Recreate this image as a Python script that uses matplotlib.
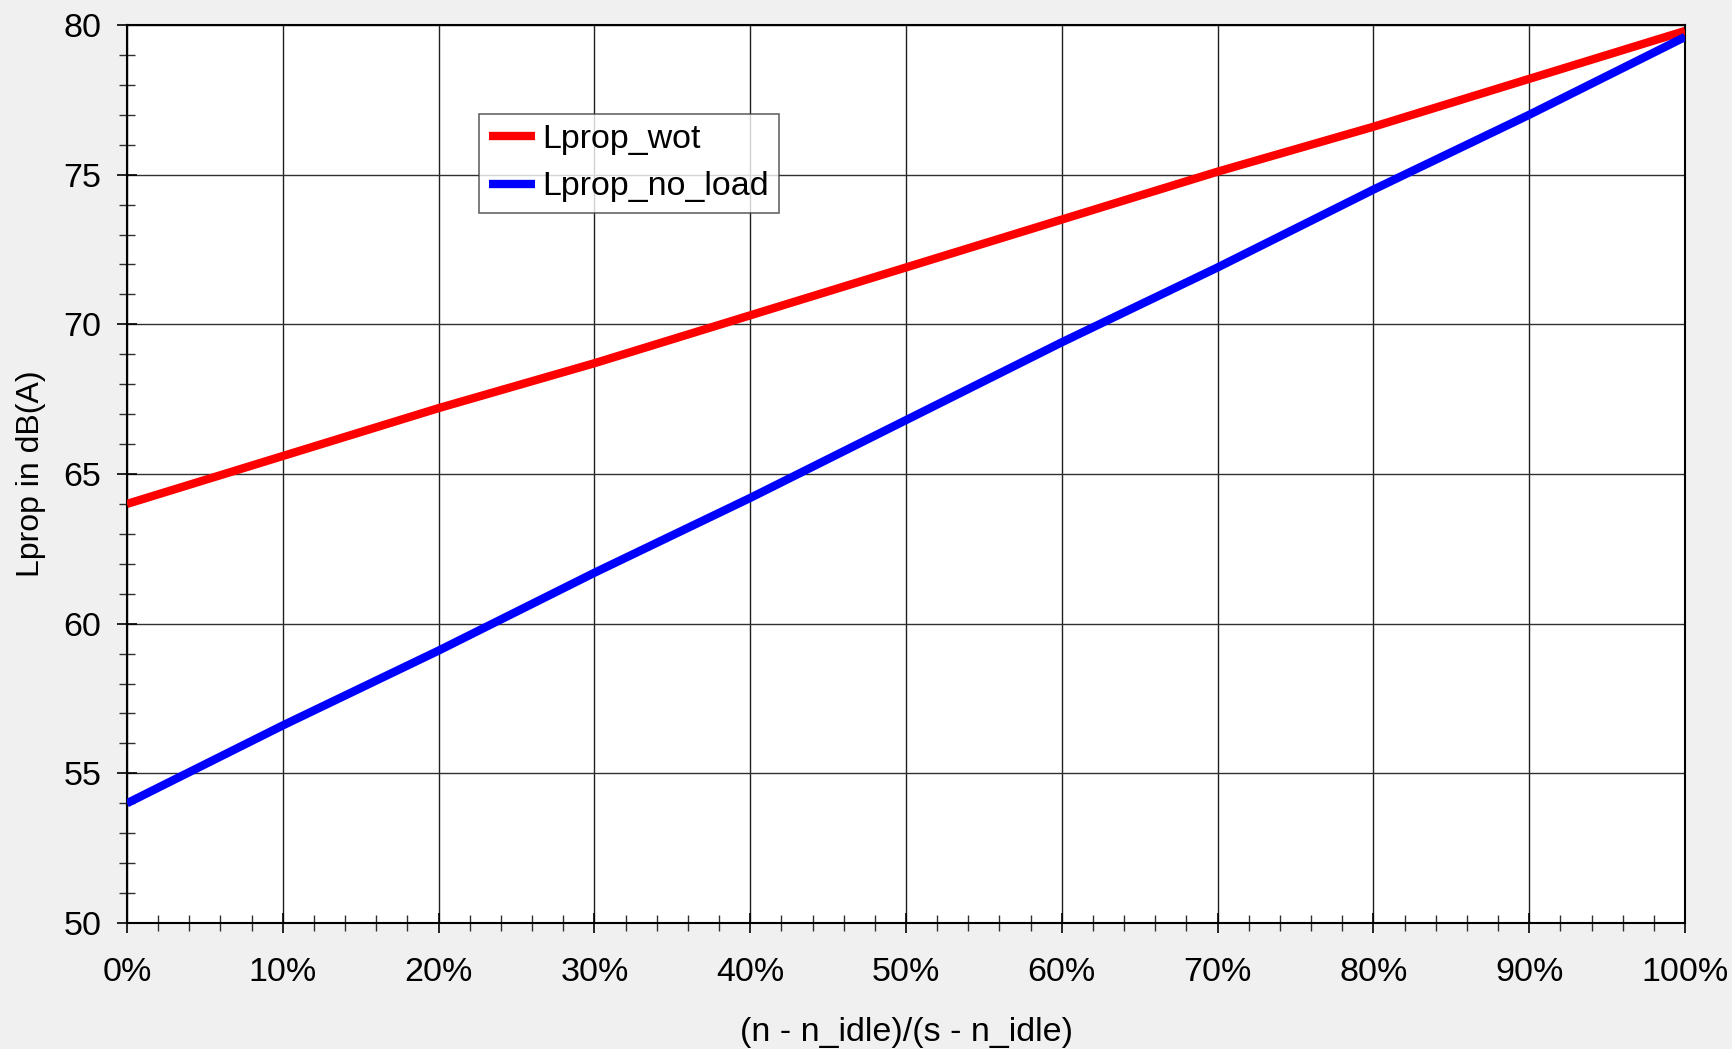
import numpy as np
import matplotlib.pyplot as plt
from matplotlib.ticker import MultipleLocator, FuncFormatter

# =====================================
# Data
# =====================================

load_pct = [0, 10, 20, 30, 40, 50, 60, 70, 80, 90, 100]
lprop_wot = [64.0, 65.6, 67.2, 68.7, 70.3, 71.9, 73.5, 75.1, 76.6, 78.2, 79.8]
lprop_no_load = [54.0, 56.6, 59.1, 61.7, 64.2, 66.8, 69.4, 71.9, 74.5, 77.0, 79.6]

plt.rcParams["font.family"] = ["Liberation Sans", "DejaVu Sans"]
FS = 24.5

# =====================================
# Plot
# =====================================

fig = plt.figure(figsize=(17.32, 10.49), dpi=100, facecolor="#f0f0f0")
ax = fig.add_axes([0.0733, 0.1201, 0.8996, 0.8561])
ax.set_facecolor("white")

ax.plot(load_pct, lprop_wot, color="#ff0000", lw=6, label="Lprop_wot",
        solid_capstyle="butt", zorder=3)
ax.plot(load_pct, lprop_no_load, color="#0000ff", lw=6, label="Lprop_no_load",
        solid_capstyle="butt", zorder=3)

ax.set_xlim(0, 100)
ax.set_ylim(50, 80)

ax.xaxis.set_major_locator(MultipleLocator(10))
ax.xaxis.set_minor_locator(MultipleLocator(2))
ax.yaxis.set_major_locator(MultipleLocator(5))
ax.yaxis.set_minor_locator(MultipleLocator(1))
ax.xaxis.set_major_formatter(FuncFormatter(lambda v, p: f"{v:.0f}%"))

ax.tick_params(axis="both", which="major", direction="inout", length=14.5,
               width=1.2, labelsize=FS, colors="black")
ax.tick_params(axis="both", which="minor", direction="inout", length=11,
               width=1.0, color="#303030")
ax.tick_params(axis="x", which="major", pad=17)
ax.tick_params(axis="y", which="major", pad=11)

ax.grid(True, axis="x", which="major", color="#202020", lw=1.0, zorder=1)
ax.grid(True, axis="y", which="major", color="#303030", lw=1.0, zorder=1)

for s in ax.spines.values():
    s.set_color("black")
    s.set_linewidth(1.5)

ax.set_xlabel("(n - n_idle)/(s - n_idle)", fontsize=FS, labelpad=21)
ax.set_ylabel("Lprop in dB(A)", fontsize=23, labelpad=13)

leg = ax.legend(loc="upper left", bbox_to_anchor=(0.226, 0.901),
                fontsize=FS, frameon=True, fancybox=False,
                handlelength=1.35, handletextpad=0.2, borderpad=0.3,
                labelspacing=0.48, borderaxespad=0)
leg.get_frame().set_edgecolor("#404040")
leg.get_frame().set_linewidth(1.2)

plt.savefig("out.png", dpi=100, facecolor=fig.get_facecolor())
